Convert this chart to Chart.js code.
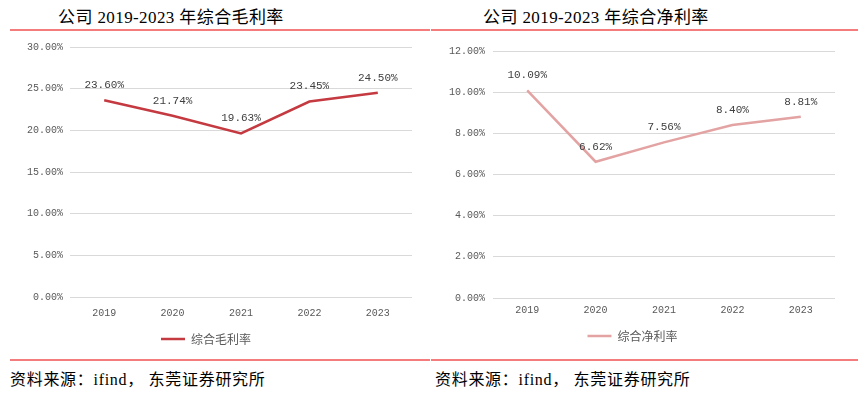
<!DOCTYPE html>
<html>
<head>
<meta charset="utf-8">
<script src="https://cdn.jsdelivr.net/npm/chart.js"></script>
<style>
  body { margin:0; width:866px; height:393px; background:#fff; position:relative; overflow:hidden; }
  .title { position:absolute; top:3px; font: 17px "Liberation Serif", "Noto Sans CJK SC", serif; letter-spacing:0.4px; color:#000; white-space:nowrap; }
  .rule { position:absolute; height:2px; background:#f47c7c; }
  .src { position:absolute; top:366px; font: 16px "Liberation Serif", "Noto Sans CJK SC", serif; letter-spacing:0.7px; color:#000; white-space:nowrap; }
  .box { position:absolute; top:34px; width:430px; height:330px; }
</style>
</head>
<body>
  <div class="title" style="left:58px">公司 2019-2023 年综合毛利率</div>
  <div class="title" style="left:483px">公司 2019-2023 年综合净利率</div>
  <div class="rule" style="left:10px; width:420px; top:29px"></div>
  <div class="rule" style="left:431px; width:427px; top:29px"></div>
  <div class="rule" style="left:10px; width:420px; top:359px"></div>
  <div class="rule" style="left:431px; width:427px; top:359px"></div>
  <div class="src" style="left:10px">资料来源：ifind， 东莞证券研究所</div>
  <div class="src" style="left:435px">资料来源：ifind， 东莞证券研究所</div>

  <div class="box" style="left:0"><canvas id="grossChart"></canvas></div>
  <div class="box" style="left:430px"><canvas id="netChart"></canvas></div>

<script>
// data
const years = ['2019', '2020', '2021', '2022', '2023'];
const grossMargin = [23.60, 21.74, 19.63, 23.45, 24.50];
const netMargin = [10.09, 6.62, 7.56, 8.40, 8.81];
const grossTicks = { max: 30, step: 5 };
const netTicks = { max: 12, step: 2 };

const monoFont = { family: '"Liberation Mono", "DejaVu Sans Mono", monospace', size: 10 };

// draws the value above each point
const valueLabels = {
  id: 'valueLabels',
  afterDatasetsDraw(chart) {
    const ctx = chart.ctx;
    const meta = chart.getDatasetMeta(0);
    const values = chart.data.datasets[0].data;
    ctx.save();
    ctx.font = '11px "Liberation Mono", "DejaVu Sans Mono", monospace';
    ctx.fillStyle = '#404040';
    ctx.textAlign = 'center';
    ctx.textBaseline = 'middle';
    meta.data.forEach((pt, i) => {
      ctx.fillText(values[i].toFixed(2) + '%', pt.x, pt.y - 15);
    });
    ctx.restore();
  }
};

function makeChart(id, label, values, color, ticks, axisWidth, pad) {
  return new Chart(document.getElementById(id), {
    type: 'line',
    data: {
      labels: years,
      datasets: [{
        label: label,
        data: values,
        borderColor: color,
        backgroundColor: color,
        borderWidth: 2.5,
        pointRadius: 0,
        tension: 0
      }]
    },
    options: {
      responsive: true,
      maintainAspectRatio: false,
      animation: false,
      layout: { padding: { top: pad.top, left: 0, right: pad.right, bottom: pad.bottom } },
      plugins: {
        legend: {
          position: 'bottom',
          labels: {
            usePointStyle: true,
            pointStyle: 'line',
            pointStyleWidth: 24,
            color: '#595959',
            font: { family: '"Noto Sans CJK SC", sans-serif', size: 12 },
            padding: 14
          }
        },
        tooltip: { enabled: false }
      },
      scales: {
        x: {
          offset: true,
          grid: { display: false, drawTicks: true, tickLength: pad.xtick },
          border: { display: false },
          ticks: { color: '#595959', font: monoFont, padding: 0 }
        },
        y: {
          min: 0,
          max: ticks.max,
          afterFit(scale) { scale.width = axisWidth; },
          grid: { color: '#d9d9d9', drawTicks: false },
          border: { display: false },
          ticks: {
            stepSize: ticks.step,
            color: '#595959',
            font: monoFont,
            padding: pad.tick,
            callback: v => v.toFixed(2) + '%'
          }
        }
      }
    },
    plugins: [valueLabels]
  });
}

makeChart('grossChart', '综合毛利率', grossMargin, '#c43a40', grossTicks, 70,
  { top: 12, right: 18, bottom: 9, tick: 7, xtick: 10 });
makeChart('netChart', '综合净利率', netMargin, '#e3a3a3', netTicks, 63,
  { top: 17, right: 25, bottom: 12, tick: 8, xtick: 6 });
</script>
</body>
</html>
